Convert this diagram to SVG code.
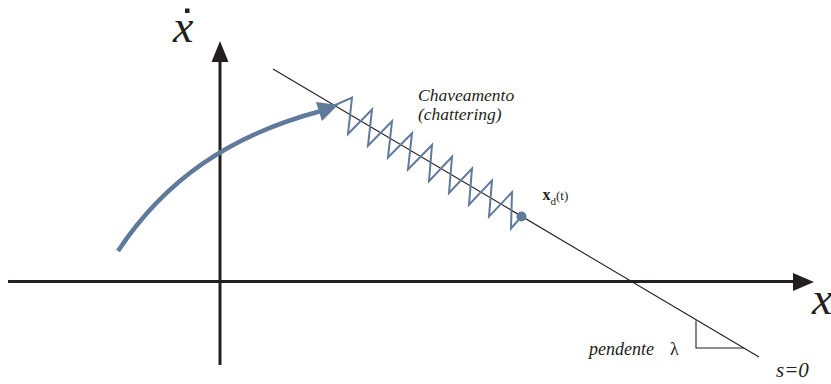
<svg xmlns="http://www.w3.org/2000/svg" width="831" height="384" viewBox="0 0 831 384">
<style>
.ax{stroke:#231f20;stroke-width:3;fill:none}
.thin{stroke:#231f20;stroke-width:1.1;fill:none}
.blue{stroke:#5f7a9a;fill:none}
text{font-family:'Liberation Serif','Times New Roman','DejaVu Serif',serif;fill:#231f20}
.it{font-style:italic}
</style>
<rect width="831" height="384" fill="#ffffff"/>
<g id="axes">
  <line class="ax" x1="8" y1="281.5" x2="796" y2="281.5"/>
  <polygon points="814,282 793,273 793,291" fill="#231f20"/>
  <line class="ax" x1="220" y1="365" x2="220" y2="58"/>
  <polygon points="220,41 211.5,62 228.5,62" fill="#231f20"/>
  <text class="it" x="173" y="42" font-size="46" font-family="Liberation Serif, serif">x</text>
  <rect x="185" y="8.5" width="4.5" height="4.5" fill="#231f20"/>
  <text class="it" x="812" y="314" font-size="46" font-family="Liberation Serif, serif">x</text>
</g>
<g id="sliding-surface">
  <line class="thin" x1="273" y1="69" x2="759" y2="357"/>
  <polyline class="thin" points="696,320.5 696,348 744,348"/>
  <text class="it" x="589" y="355" font-size="18" font-family="Liberation Serif, serif">pendente</text>
  <text x="670" y="355" font-size="18" font-family="Liberation Serif, serif">λ</text>
  <text class="it" x="776" y="377" font-size="21" font-family="Liberation Serif, serif">s=0</text>
</g>
<g id="trajectory">
  <path class="blue" stroke-width="4.5" d="M118,251 C165,180 230,135 321,111"/>
  <polygon points="338,105 316,102 322,121" fill="#5f7a9a"/>
</g>
<g id="chattering">
  <polyline class="blue" stroke-width="2" points="333,106 352,97.7 348,133.9 372,109.5 368,145.7 392,121.3 388,157.5 412,133.2 408,169.4 432,145 429,181.2 452,156.8 449,193 472,168.6 469,204.8 492,180.4 489,216.6 512,192.3 511,228.5 521,217"/>
  <circle cx="521.5" cy="216.5" r="5" fill="#5f7a9a"/>
  <text class="it" x="418" y="101" font-size="17.5" font-family="Liberation Serif, serif">Chaveamento</text>
  <text class="it" x="418" y="120" font-size="17.5" font-family="Liberation Serif, serif">(chattering)</text>
</g>
<g id="xd-label">
  <text x="542.5" y="200" font-size="16" font-family="Liberation Serif, serif"><tspan font-weight="bold">x</tspan><tspan font-size="11" dy="5">d</tspan><tspan font-size="13" dy="-5">(t)</tspan></text>
</g>
</svg>
